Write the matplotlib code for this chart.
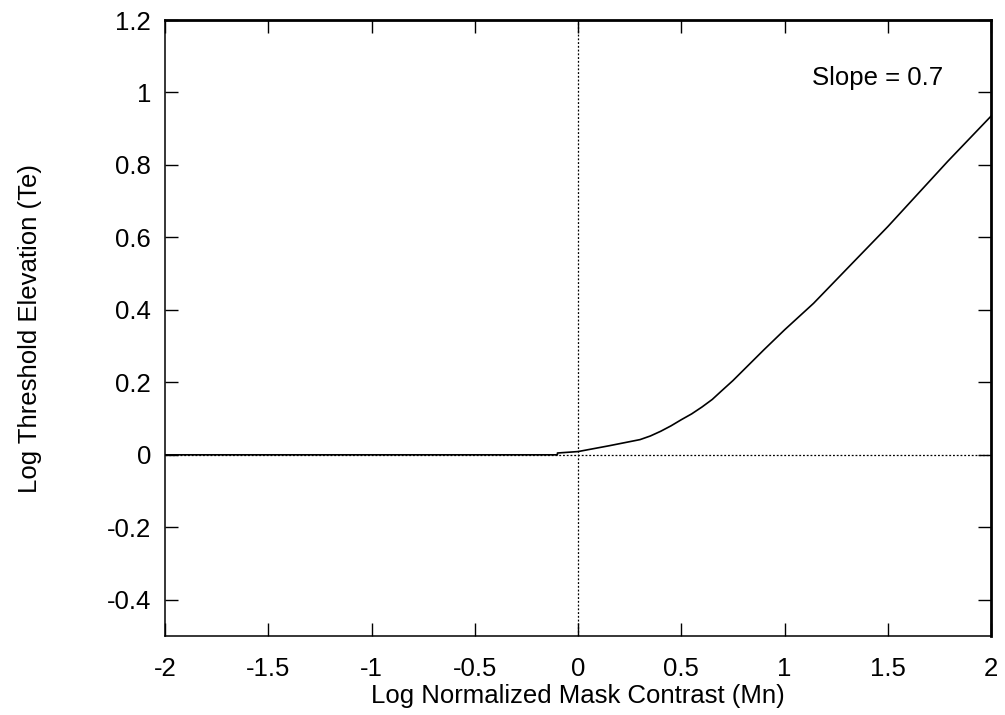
import matplotlib
matplotlib.use("Agg")
import matplotlib.pyplot as plt

# threshold elevation curve
mask_contrast = [-2.0, -0.1, -0.1, 0.0, 0.15, 0.3, 0.35, 0.4, 0.45, 0.5, 0.55,
                 0.6, 0.65, 0.69, 0.75, 0.9, 1.0, 1.14, 1.33, 1.5, 1.79, 2.0]
threshold_elev = [0.0, 0.0, 0.005, 0.009, 0.025, 0.042, 0.052, 0.065, 0.08,
                  0.097, 0.113, 0.132, 0.153, 0.174, 0.205, 0.29, 0.345,
                  0.418, 0.53, 0.63, 0.81, 0.935]

x_ticks = [-2, -1.5, -1, -0.5, 0, 0.5, 1, 1.5, 2]
x_tick_labels = ["-2", "-1.5", "-1", "-0.5", "0", "0.5", "1", "1.5", "2"]
y_ticks = [-0.4, -0.2, 0, 0.2, 0.4, 0.6, 0.8, 1.0, 1.2]
y_tick_labels = ["-0.4", "-0.2", "0", "0.2", "0.4", "0.6", "0.8", "1", "1.2"]

plt.rcParams["font.family"] = ["Liberation Sans", "DejaVu Sans"]
FS = 18.5

fig = plt.figure(figsize=(10.05, 7.15), dpi=100)
ax = fig.add_axes([0.1642, 0.1105, 0.822, 0.8615])

# dotted reference lines through the origin
ax.axhline(0, color="black", lw=0.9, ls=(0, (1.5, 1.5)), zorder=1)
ax.axvline(0, color="black", lw=0.9, ls=(0, (1.5, 1.5)), zorder=1)

ax.plot(mask_contrast, threshold_elev, color="black", lw=1.2, zorder=2)

ax.text(1.133, 1.02, "Slope = 0.7", fontsize=FS, va="baseline", ha="left")

ax.set_xlim(-2, 2)
ax.set_ylim(-0.5, 1.2)
ax.set_xticks(x_ticks)
ax.set_xticklabels(x_tick_labels)
ax.set_yticks(y_ticks)
ax.set_yticklabels(y_tick_labels)

ax.tick_params(direction="in", length=9.5, width=1, top=True, right=True,
               labelsize=FS)
ax.tick_params(axis="x", pad=15)
ax.tick_params(axis="y", pad=10)

for side in ["left", "bottom"]:
    ax.spines[side].set_linewidth(1.1)
for side in ["top", "right"]:
    ax.spines[side].set_linewidth(2.0)

ax.set_xlabel("Log Normalized Mask Contrast (Mn)", fontsize=FS)
ax.set_ylabel("Log Threshold Elevation (Te)", fontsize=FS)
ax.xaxis.set_label_coords(0.5, -0.078)
ax.yaxis.set_label_coords(-0.149, 0.5)

fig.savefig("out.png", dpi=100)
